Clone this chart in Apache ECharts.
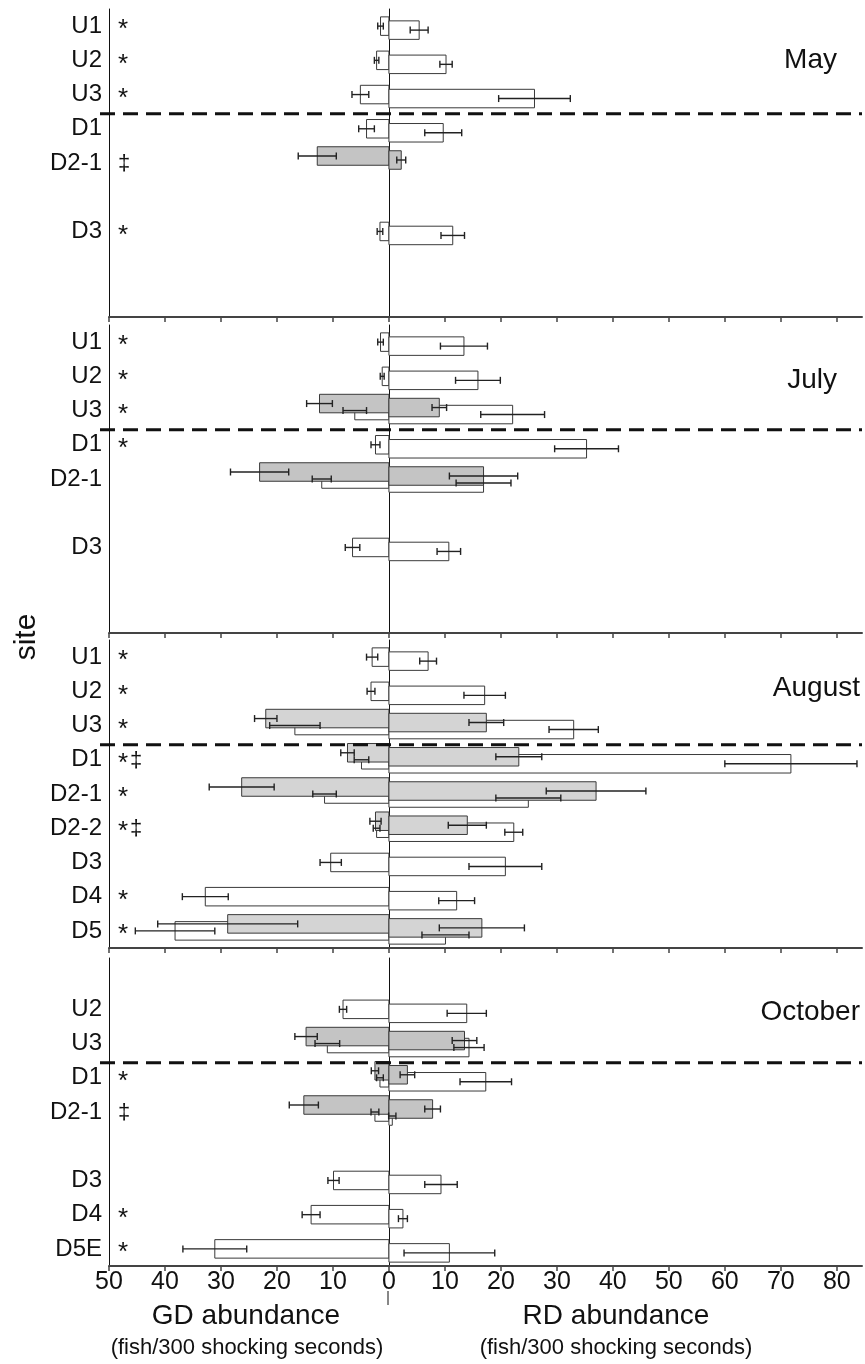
<!DOCTYPE html>
<html>
<head>
<meta charset="utf-8">
<script src="https://cdn.jsdelivr.net/npm/echarts@6/dist/echarts.min.js"></script>
<style>
html,body{margin:0;padding:0;background:#fff;}
#chart{width:865px;height:1364px;}
</style>
</head>
<body>
<div id="chart"></div>
<script>
// ---------- DATA ----------
const slots = ['U1','U2','U3','D1','D2-1','D2-2','D3','D4','D5'];
const months = ['May','July','August','October'];
const xTicks = [-50,-40,-30,-20,-10,0,10,20,30,40,50,60,70,80];

const mayLabels = ['U1','U2','U3','D1','D2-1','','D3','',''];
const julLabels = ['U1','U2','U3','D1','D2-1','','D3','',''];
const augLabels = ['U1','U2','U3','D1','D2-1','D2-2','D3','D4','D5'];
const octLabels = ['','U2','U3','D1','D2-1','','D3','D4','D5E'];

const mayMarks = ['*','*','*','','‡','','*','',''];
const julMarks = ['*','*','*','*','','','','',''];
const augMarks = ['*','*','*','*‡','*','*‡','','*','*'];
const octMarks = ['','','','*','‡','','','*','*'];

// GD (left) and RD (right); W = white bars, G = grey bars, se = error half-width
const mayGdW   = [1.5, 2.2, 5.1, 4.0, null, null, 1.6, null, null];
const mayGdWse = [0.5, 0.4, 1.5, 1.4, null, null, 0.5, null, null];
const mayGdG   = [null, null, null, null, 12.8, null, null, null, null];
const mayGdGse = [null, null, null, null, 3.4, null, null, null, null];
const mayRdW   = [5.4, 10.2, 26.0, 9.7, null, null, 11.4, null, null];
const mayRdWse = [1.6, 1.1, 6.4, 3.3, null, null, 2.1, null, null];
const mayRdG   = [null, null, null, null, 2.2, null, null, null, null];
const mayRdGse = [null, null, null, null, 0.8, null, null, null, null];

const julGdW   = [1.5, 1.2, 6.1, 2.4, 12.0, null, 6.5, null, null];
const julGdWse = [0.5, 0.35, 2.1, 0.8, 1.7, null, 1.3, null, null];
const julGdG   = [null, null, 12.4, null, 23.1, null, null, null, null];
const julGdGse = [null, null, 2.3, null, 5.2, null, null, null, null];
const julRdW   = [13.4, 15.9, 22.1, 35.3, 16.9, null, 10.7, null, null];
const julRdWse = [4.2, 4.0, 5.7, 5.7, 4.9, null, 2.1, null, null];
const julRdG   = [null, null, 9.0, null, 16.9, null, null, null, null];
const julRdGse = [null, null, 1.3, null, 6.1, null, null, null, null];

const augGdW   = [3.0, 3.2, 16.8, 4.9, 11.5, 2.2, 10.4, 32.8, 38.2];
const augGdWse = [1.0, 0.7, 4.5, 1.3, 2.1, 0.6, 1.9, 4.1, 7.1];
const augGdG   = [null, null, 22.0, 7.4, 26.3, 2.4, null, null, 28.8];
const augGdGse = [null, null, 2.0, 1.2, 5.8, 1.0, null, null, 12.5];
const augRdW   = [7.0, 17.1, 33.0, 71.8, 24.9, 22.3, 20.8, 12.1, 10.1];
const augRdWse = [1.5, 3.7, 4.4, 11.8, 5.8, 1.6, 6.5, 3.2, 4.2];
const augRdG   = [null, null, 17.4, 23.2, 37.0, 14.0, null, null, 16.6];
const augRdGse = [null, null, 3.1, 4.1, 8.9, 3.4, null, null, 7.6];

const octGdW   = [null, 8.2, 11.0, 1.6, 2.5, null, 9.9, 13.9, 31.1];
const octGdWse = [null, 0.65, 2.2, 0.6, 0.7, null, 1.0, 1.6, 5.7];
const octGdG   = [null, null, 14.8, 2.5, 15.2, null, null, null, null];
const octGdGse = [null, null, 2.0, 0.65, 2.6, null, null, null, null];
const octRdW   = [null, 13.9, 14.3, 17.3, 0.6, null, 9.3, 2.5, 10.8];
const octRdWse = [null, 3.5, 2.7, 4.6, 0.65, null, 2.9, 0.8, 8.1];
const octRdG   = [null, null, 13.5, 3.3, 7.8, null, null, null, null];
const octRdGse = [null, null, 2.2, 1.3, 1.4, null, null, null, null];

// ---------- BUILD ----------
const panels = [
  {name: months[0], labels: mayLabels, marks: mayMarks, gdW: mayGdW, gdWse: mayGdWse, gdG: mayGdG, gdGse: mayGdGse, rdW: mayRdW, rdWse: mayRdWse, rdG: mayRdG, rdGse: mayRdGse},
  {name: months[1], labels: julLabels, marks: julMarks, gdW: julGdW, gdWse: julGdWse, gdG: julGdG, gdGse: julGdGse, rdW: julRdW, rdWse: julRdWse, rdG: julRdG, rdGse: julRdGse},
  {name: months[2], labels: augLabels, marks: augMarks, gdW: augGdW, gdWse: augGdWse, gdG: augGdG, gdGse: augGdGse, rdW: augRdW, rdWse: augRdWse, rdG: augRdG, rdGse: augRdGse},
  {name: months[3], labels: octLabels, marks: octMarks, gdW: octGdW, gdWse: octGdWse, gdG: octGdG, gdGse: octGdGse, rdW: octRdW, rdWse: octRdWse, rdG: octRdG, rdGse: octRdGse}
];
const layout = [
  {top: 9, height: 308, gray: '#c4c4c4', titleX: 837, titleY: 60},
  {top: 325, height: 308, gray: '#c4c4c4', titleX: 837, titleY: 380},
  {top: 640, height: 308, gray: '#d4d4d4', titleX: 860, titleY: 688},
  {top: 958, height: 308, gray: '#c4c4c4', titleX: 860, titleY: 1012}
];
const SANS = "'Liberation Sans',Arial,Helvetica,sans-serif";
const XMIN = -50, XMAX = 84.5;
const BH = 18.5, GSHIFT = -7, RSHIFT = 4;

function makeRender(p, grayColor) {
  return function (params, api) {
    const i = params.dataIndex;
    const base = api.coord([0, i]);
    const x0 = base[0], yc = base[1];
    const bars = [], errs = [], texts = [];
    function add(val, se, side, gray) {
      if (val == null) return;
      const sgn = side === 'L' ? -1 : 1;
      const cy = yc + (side === 'R' ? RSHIFT : 0) + (gray ? GSHIFT : 0);
      const xv = api.coord([sgn * val, i])[0];
      bars.push({
        type: 'rect',
        shape: {x: Math.min(x0, xv), y: cy - BH / 2, width: Math.abs(xv - x0), height: BH},
        style: {fill: gray ? grayColor : '#ffffff', stroke: '#3a3a3a', lineWidth: 1}
      });
      if (se != null) {
        const xa = api.coord([sgn * (val - se), i])[0];
        const xb = api.coord([sgn * (val + se), i])[0];
        const st = {stroke: '#222', lineWidth: 1.4};
        errs.push({type: 'line', shape: {x1: xa, y1: cy, x2: xb, y2: cy}, style: st});
        errs.push({type: 'line', shape: {x1: xa, y1: cy - 3.5, x2: xa, y2: cy + 3.5}, style: st});
        errs.push({type: 'line', shape: {x1: xb, y1: cy - 3.5, x2: xb, y2: cy + 3.5}, style: st});
      }
    }
    add(p.gdW[i], p.gdWse[i], 'L', false);
    add(p.rdW[i], p.rdWse[i], 'R', false);
    add(p.gdG[i], p.gdGse[i], 'L', true);
    add(p.rdG[i], p.rdGse[i], 'R', true);
    // significance marks
    const mk = p.marks[i];
    if (mk) {
      let mx = api.coord([XMIN, i])[0] + 9;
      for (const ch of mk) {
        const star = ch === '*';
        texts.push({
          type: 'text',
          style: {text: ch, x: mx, y: yc + (star ? 4 : 1), font: (star ? '26px ' : '22px ') + SANS,
                  fill: '#111', textAlign: 'left', textVerticalAlign: 'middle'}
        });
        mx += 12;
      }
    }
    return {type: 'group', children: bars.concat(errs, texts)};
  };
}

function frameRender(params, api) {
  const y2 = api.coord([0, 2])[1], y3 = api.coord([0, 3])[1];
  const y = (y2 + y3) / 2 + 2;
  const xl = api.coord([XMIN, 0])[0] - 9;
  const xr = api.coord([XMAX, 0])[0];
  return {
    type: 'line',
    shape: {x1: xl, y1: y, x2: xr, y2: y},
    style: {stroke: '#111', lineWidth: 3, lineDash: [15, 8]}
  };
}

const grid = [], xAxis = [], yAxis = [], series = [], graphic = [];
panels.forEach(function (p, g) {
  const L = layout[g];
  grid.push({left: 109, width: 753, top: L.top, height: L.height});
  xAxis.push({
    type: 'value', gridIndex: g, min: XMIN, max: XMAX,
    axisLine: {show: true, onZero: false, lineStyle: {color: '#444', width: 2}},
    axisTick: {show: true, length: 5, customValues: xTicks, lineStyle: {color: '#444', width: 1.5}},
    axisLabel: {show: g === 3, customValues: xTicks, margin: 4, fontFamily: SANS, fontSize: 25, color: '#111',
                formatter: function (v) { return String(Math.abs(v)); }},
    splitLine: {show: false}
  });
  const labels = p.labels;
  yAxis.push({
    type: 'category', gridIndex: g, data: slots, inverse: true, position: 'left',
    axisLine: {show: true, onZero: false, lineStyle: {color: '#111', width: 1}},
    axisTick: {show: false},
    axisLabel: {margin: 7, fontFamily: SANS, fontSize: 24, color: '#111', interval: 0,
                formatter: function (v, idx) { return labels[idx]; }},
    splitLine: {show: false}
  });
  const labelAxisIndex = yAxis.length - 1;
  yAxis.push({
    type: 'category', gridIndex: g, data: slots, inverse: true, position: 'left',
    axisLine: {show: true, onZero: true, lineStyle: {color: '#111', width: 1}},
    axisTick: {show: false}, axisLabel: {show: false}, splitLine: {show: false}
  });
  series.push({
    type: 'custom', name: p.name, xAxisIndex: g, yAxisIndex: labelAxisIndex,
    renderItem: makeRender(p, L.gray),
    data: slots.map(function (s, i) { return [0, i]; }),
    z: 3, silent: true
  });
  series.push({
    type: 'custom', name: p.name + ' divide', xAxisIndex: g, yAxisIndex: labelAxisIndex,
    renderItem: frameRender, data: [[0, 0]], z: 4, silent: true
  });
  graphic.push({
    type: 'text', x: L.titleX, y: L.titleY,
    style: {text: p.name, font: '28px ' + SANS, fill: '#111', textAlign: 'right', textVerticalAlign: 'middle'}
  });
});

graphic.push(
  {type: 'text', x: 27, y: 637, rotation: Math.PI / 2,
   style: {text: 'site', font: '30px ' + SANS, fill: '#111', textAlign: 'center', textVerticalAlign: 'middle'}},
  {type: 'text', x: 246, y: 1316, style: {text: 'GD abundance', font: '28px ' + SANS, fill: '#111', textAlign: 'center', textVerticalAlign: 'middle'}},
  {type: 'text', x: 247, y: 1348, style: {text: '(fish/300 shocking seconds)', font: '22px ' + SANS, fill: '#111', textAlign: 'center', textVerticalAlign: 'middle'}},
  {type: 'text', x: 616, y: 1316, style: {text: 'RD abundance', font: '28px ' + SANS, fill: '#111', textAlign: 'center', textVerticalAlign: 'middle'}},
  {type: 'text', x: 616, y: 1348, style: {text: '(fish/300 shocking seconds)', font: '22px ' + SANS, fill: '#111', textAlign: 'center', textVerticalAlign: 'middle'}},
  {type: 'line', shape: {x1: 388, y1: 1291, x2: 388, y2: 1305}, style: {stroke: '#111', lineWidth: 1}}
);

const chart = echarts.init(document.getElementById('chart'), null, {renderer: 'canvas'});
chart.setOption({
  animation: false,
  backgroundColor: '#ffffff',
  grid: grid, xAxis: xAxis, yAxis: yAxis, series: series, graphic: graphic
});
</script>
</body>
</html>
